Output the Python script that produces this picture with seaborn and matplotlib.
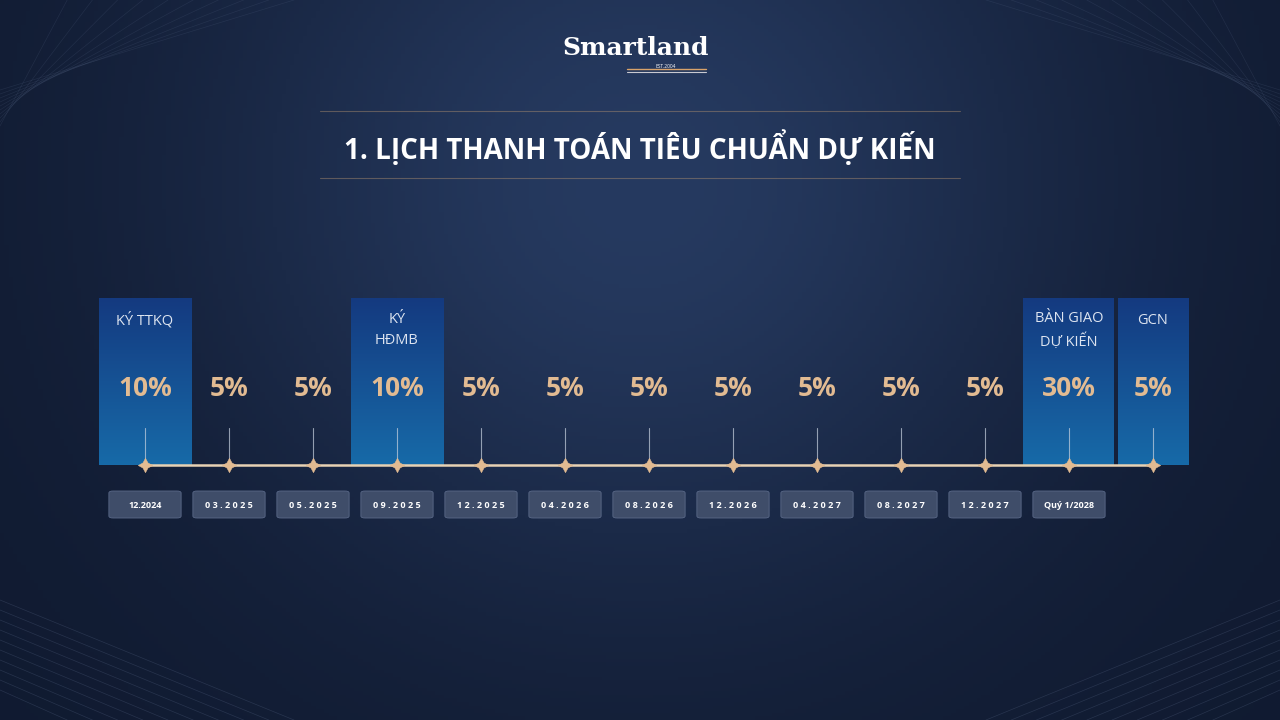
import numpy as np
import matplotlib.pyplot as plt
import seaborn as sns
from matplotlib.patches import FancyBboxPatch

# --- data ---
dates = ["12.2024", "03.2025", "05.2025", "09.2025", "12.2025", "04.2026", "08.2026",
         "12.2026", "04.2027", "08.2027", "12.2027", "Quý 1/2028"]
percents = [10, 5, 5, 10, 5, 5, 5, 5, 5, 5, 5, 30, 5]
milestones = ["KÝ TTKQ", "", "", "KÝ\nHĐMB", "", "", "", "", "", "", "", "BÀN GIAO\nDỰ KIẾN", "GCN"]
box_widths = [1.1, 0, 0, 1.1, 0, 0, 0, 0, 0, 0, 0, 1.08, 0.84]

sns.set_style("white")
plt.rcParams['font.family'] = ['Open Sans', 'DejaVu Sans']

GOLD = "#e2bb92"
fig = plt.figure(figsize=(12.8, 7.2), dpi=100)
ax = fig.add_axes([0, 0, 1, 1])
# index i sits at pixel 145 + 84*i
ax.set_xlim(-145 / 84, (1280 - 145) / 84)
ax.set_ylim(720, 0)
ax.axis("off")
x0, x1 = ax.get_xlim()

# background gradient
yy, xx = np.mgrid[0:1:200j, 0:1:300j]
glow = np.exp(-((xx - 0.5) ** 2 / 0.12 + (yy - 0.25) ** 2 / 0.35))
bg = np.zeros(yy.shape + (3,))
dark = np.array([0x10, 0x1a, 0x30]) / 255
light = np.array([0x26, 0x3a, 0x60]) / 255
for c in range(3):
    bg[..., c] = dark[c] + (light[c] - dark[c]) * glow
ax.imshow(bg, extent=[x0, x1, 720, 0], aspect="auto", zorder=0)

# corner decorative lines
for k in range(10):
    ax.plot([x0, x0 + 3.5 - k * 0.3], [90 + k * 4, 0], color="#5a6a8a", lw=0.5, alpha=0.2, zorder=1)
    ax.plot([x1, x1 - 3.5 + k * 0.3], [90 + k * 4, 0], color="#5a6a8a", lw=0.5, alpha=0.2, zorder=1)
    ax.plot([x0, x0 + 3.5 - k * 0.3], [600 + k * 10, 720], color="#5a6a8a", lw=0.5, alpha=0.3, zorder=1)
    ax.plot([x1, x1 - 3.5 + k * 0.3], [600 + k * 10, 720], color="#5a6a8a", lw=0.5, alpha=0.3, zorder=1)

# logo
cx = (640 - 145) / 84
ax.text(cx - 0.05, 48, "Smartland", color="white", fontsize=18, family="DejaVu Serif",
        fontweight="bold", ha="center", va="center", zorder=5)
ax.text(cx + 0.3, 67, "EST.2004", color="white", fontsize=3.5, ha="center", va="center", zorder=5)
ax.plot([cx - 0.15, cx + 0.78], [69, 69], color="#d9a36a", lw=1, zorder=5)
ax.plot([cx - 0.15, cx + 0.78], [72, 72], color="#c9c9d0", lw=0.8, zorder=5)

# title with faint rules
ax.text(cx, 148, "1. LỊCH THANH TOÁN TIÊU CHUẨN DỰ KIẾN", color="white", fontsize=20,
        fontweight="bold", ha="center", va="center", zorder=5)
for y in (111, 178):
    ax.plot([(320 - 145) / 84, (960 - 145) / 84], [y, y], color="#b09070", lw=0.8, alpha=0.45, zorder=2)

# highlighted boxes with vertical blue gradient
grad = np.linspace(0, 1, 100)[:, None, None]
top = np.array([0x14, 0x3a, 0x80]) / 255
bot = np.array([0x17, 0x6a, 0xa8]) / 255
box_img = top + (bot - top) * grad
for i, w in enumerate(box_widths):
    if w == 0:
        continue
    left = i - 0.55 if i < 12 else i - w / 2
    ax.imshow(box_img, extent=[left, left + w, 465, 298], aspect="auto", zorder=2)

# milestone labels and percents
for i, (lab, p) in enumerate(zip(milestones, percents)):
    if lab:
        ax.text(i, 320 if "\n" not in lab else 330, lab, color="#dde4f0", fontsize=10.5,
                ha="center", va="center", linespacing=1.6, zorder=5)
    ax.text(i, 388, f"{p}%", color=GOLD, fontsize=19, fontweight="bold",
            ha="center", va="center", zorder=5)
    ax.plot([i, i], [428, 465], color="#c8d2e0", lw=0.8, alpha=0.7, zorder=4)

# timeline with star markers
idx = np.arange(len(percents))
ax.plot([idx[0], idx[-1]], [465, 465], color="#e8d2b4", lw=1.8, zorder=4)
sns.scatterplot(x=idx, y=np.full(len(idx), 465), marker=(4, 1, 0), s=110, color=GOLD,
                edgecolor=GOLD, linewidth=0.3, ax=ax, zorder=6, legend=False)
ax.set_xlim(x0, x1)
ax.set_ylim(720, 0)
ax.axis("off")

# date pills
for i, d in enumerate(dates):
    ax.add_patch(FancyBboxPatch((i - 0.43, 491), 0.86, 27, boxstyle="round,pad=0,rounding_size=0.05",
                                mutation_aspect=40, fc="#3f4d69", ec="#5a6988", lw=0.6, zorder=3))
    ax.text(i, 505, " ".join(d) if i > 0 and "Q" not in d else d, color="white", fontsize=6.5,
            fontweight="bold", ha="center", va="center", zorder=5)

fig.savefig("out.png", dpi=100)
